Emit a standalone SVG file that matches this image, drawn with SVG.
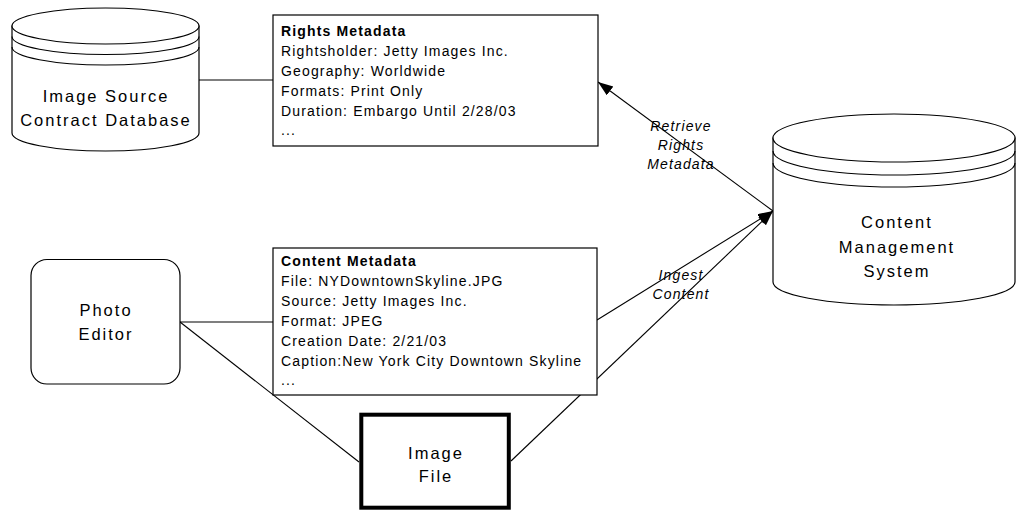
<svg xmlns="http://www.w3.org/2000/svg" width="1016" height="513" viewBox="0 0 1016 513">
<defs>
<style>
.shape{fill:#fff;stroke:#000;stroke-width:1.2}
.ln{fill:none;stroke:#000;stroke-width:1.1}
.big{font-family:"Liberation Sans",Arial,sans-serif;font-size:16.5px;letter-spacing:2px;fill:#000;text-anchor:middle}
.sm{font-family:"Liberation Sans",Arial,sans-serif;font-size:14px;letter-spacing:1.15px;fill:#000}
.b{font-weight:bold}
.lbl{font-family:"Liberation Sans",Arial,sans-serif;font-size:14px;letter-spacing:1.15px;font-style:italic;fill:#000;text-anchor:middle}
</style>
<marker id="ah" markerUnits="userSpaceOnUse" markerWidth="16" markerHeight="12" refX="15" refY="5.5" orient="auto">
<path d="M0,0 L15,5.5 L0,11 z" fill="#000"/>
</marker>
</defs>
<rect width="1016" height="513" fill="#fff"/>

<g id="connectors">
<line class="ln" x1="199" y1="80" x2="273" y2="80"/>
<line class="ln" x1="180" y1="322" x2="273" y2="322"/>
<line class="ln" x1="180" y1="322" x2="359" y2="462"/>
<line class="ln" x1="773" y1="211" x2="598" y2="82" marker-end="url(#ah)"/>
<line class="ln" x1="597" y1="320" x2="773" y2="211" marker-end="url(#ah)"/>
<line class="ln" x1="511" y1="461" x2="773" y2="211" marker-end="url(#ah)"/>
<text class="lbl" x="681" y="131">Retrieve</text>
<text class="lbl" x="681" y="150">Rights</text>
<text class="lbl" x="681" y="169">Metadata</text>
<text class="lbl" x="681" y="280">Ingest</text>
<text class="lbl" x="681" y="299">Content</text>
</g>

<g id="image-source-db">
<path class="shape" d="M12,26 L12,133 A93.5,18 0 0 0 199,133 L199,26 Z"/>
<ellipse class="shape" cx="105.5" cy="26" rx="93.5" ry="18"/>
<path class="ln" d="M12,36.5 A93.5,18 0 0 0 199,36.5"/>
<path class="ln" d="M12,47 A93.5,18 0 0 0 199,47"/>
<text class="big" x="106" y="102">Image Source</text>
<text class="big" x="106" y="126">Contract Database</text>
</g>

<g id="rights-metadata">
<rect class="shape" x="273" y="15" width="325" height="131"/>
<text class="sm b" x="281" y="35.7">Rights Metadata</text>
<text class="sm" x="281" y="55.7">Rightsholder: Jetty Images Inc.</text>
<text class="sm" x="281" y="75.7">Geography: Worldwide</text>
<text class="sm" x="281" y="95.7">Formats: Print Only</text>
<text class="sm" x="281" y="115.7">Duration: Embargo Until 2/28/03</text>
<text class="sm" x="281" y="135.3">...</text>
</g>

<g id="content-management-system">
<path class="shape" d="M773,138 L773,282 A121,23 0 0 0 1015,282 L1015,138 Z"/>
<ellipse class="shape" cx="894" cy="138" rx="121" ry="24"/>
<path class="ln" d="M773,151 A121,24 0 0 0 1015,151"/>
<path class="ln" d="M773,163 A121,24 0 0 0 1015,163"/>
<text class="big" x="897" y="228">Content</text>
<text class="big" x="897" y="253">Management</text>
<text class="big" x="897" y="277">System</text>
</g>

<g id="photo-editor">
<rect class="shape" x="31" y="259.5" width="149" height="124.5" rx="16" ry="16"/>
<text class="big" x="106" y="316">Photo</text>
<text class="big" x="106" y="340">Editor</text>
</g>

<g id="content-metadata">
<rect class="shape" x="273" y="248" width="324" height="147"/>
<text class="sm b" x="281" y="265.7">Content Metadata</text>
<text class="sm" x="281" y="285.7">File: NYDowntownSkyline.JPG</text>
<text class="sm" x="281" y="305.7">Source: Jetty Images Inc.</text>
<text class="sm" x="281" y="325.7">Format: JPEG</text>
<text class="sm" x="281" y="345.7">Creation Date: 2/21/03</text>
<text class="sm" x="281" y="365.7">Caption:New York City Downtown Skyline</text>
<text class="sm" x="281" y="385.3">...</text>
</g>

<g id="image-file">
<rect x="361.3" y="414.7" width="147.5" height="93" fill="#fff" stroke="#000" stroke-width="4"/>
<text class="big" x="436" y="458.5">Image</text>
<text class="big" x="436" y="482">File</text>
</g>
</svg>
